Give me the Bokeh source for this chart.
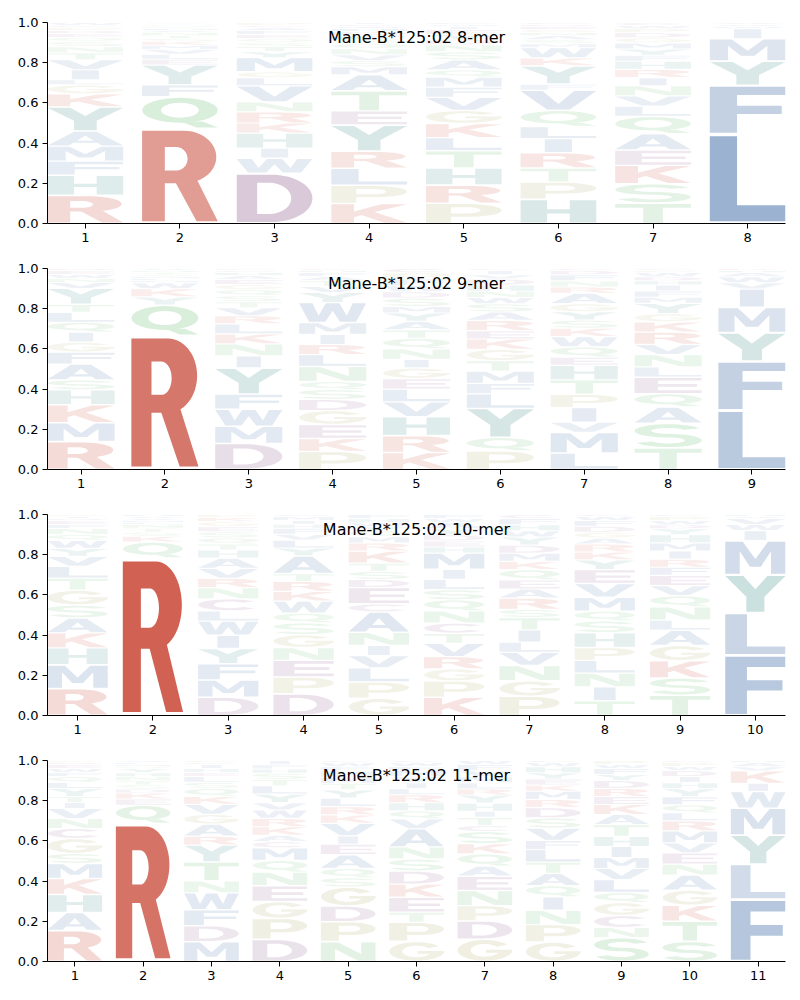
import numpy as np
from bokeh.plotting import figure
from bokeh.layouts import column
from bokeh.models import FixedTicker, PrintfTickFormatter, Label, ColumnDataSource
from bokeh.embed import file_html
from bokeh.resources import INLINE

# ---------------- data: per panel, per position (bottom -> top) ----------------
titles = ["Mane-B*125:02 8-mer", "Mane-B*125:02 9-mer",
          "Mane-B*125:02 10-mer", "Mane-B*125:02 11-mer"]

mer8 = [
    ("RHFMAYKGLIVTNSQEDPCW", [.14, .10, .07, .075, .075, .12, .065, .045, .025, .05, .05, .035, .03, .025, .02, .02, .015, .015, .01, .015]),
    ("RQFYELVMKSTNAHGDWPIC", [.48, .16, .06, .10, .03, .025, .025, .02, .02, .015, .015, .015, .01, .01, .005, .005, .005, .005, .005, .005]),
    ("DWIHKRNVLGMYTSQEFACP", [.25, .075, .05, .075, .05, .055, .05, .08, .04, .03, .07, .03, .025, .02, .02, .02, .02, .015, .01, .015]),
    ("KPLRYETAMSVNQGFDHWCI", [.10, .09, .085, .085, .13, .07, .10, .08, .04, .03, .03, .03, .025, .02, .02, .02, .015, .01, .01, .01]),
    ("PRHTLKGVFMQASNDYEIWC", [.10, .09, .085, .085, .065, .07, .065, .065, .05, .05, .035, .05, .04, .035, .025, .025, .025, .015, .01, .01]),
    ("HPTRILQVFYKWMSANGEDC", [.12, .085, .07, .075, .07, .06, .08, .10, .03, .09, .04, .05, .02, .02, .02, .015, .015, .015, .01, .01]),
    ("TSKEAQLVNIRHFYMGDPWC", [.10, .095, .09, .075, .08, .085, .05, .05, .05, .04, .04, .04, .03, .03, .03, .025, .025, .02, .015, .015]),
    ("LFYMIWVA", [.44, .24, .12, .11, .05, .01, .01, .01]),
]
mer9 = [
    ("RMKHSAFGIQLTYVNWED", [.14, .095, .09, .075, .05, .08, .06, .05, .05, .05, .05, .04, .08, .03, .02, .02, .02, .01]),
    ("RQYKWHLMSTNV", [.66, .15, .04, .04, .03, .01, .01, .01, .01, .01, .01, .01]),
    ("DMWFYINKLRVTSQGEAHCP", [.13, .085, .085, .075, .13, .06, .06, .05, .05, .04, .04, .03, .03, .03, .025, .025, .02, .015, .01, .01]),
    ("PKEGDSQNLRIMWYVTAFHC", [.09, .065, .07, .07, .055, .05, .04, .075, .06, .05, .05, .06, .10, .05, .03, .03, .02, .02, .01, .01]),
    ("KRHVLEGINQTAYMSDWFPC", [.08, .08, .09, .07, .06, .05, .05, .04, .05, .05, .04, .04, .04, .03, .04, .03, .03, .03, .03, .02]),
    ("PQYLFMTGKERASWNHDVIC", [.09, .065, .14, .07, .05, .06, .05, .055, .05, .04, .05, .04, .04, .03, .03, .03, .03, .02, .02, .01]),
    ("LMVIPTHEQWKSYGARNFDC", [.08, .10, .05, .07, .065, .07, .07, .04, .05, .05, .04, .04, .04, .04, .05, .03, .03, .03, .02, .01]),
    ("TSAQELNVRKGYMFIHDWPC", [.105, .12, .08, .065, .08, .05, .06, .05, .06, .05, .04, .05, .03, .03, .03, .02, .02, .02, .01, .01]),
    ("LFYMIVWAHK", [.29, .24, .14, .125, .09, .03, .03, .02, .01, .01]),
]
mer10 = [
    ("RMHKASGTLVYWQNFEDIP", [.135, .12, .085, .075, .075, .065, .075, .06, .06, .05, .04, .04, .03, .03, .02, .02, .01, .01, .01]),
    ("RQKSTNLMVAH", [.80, .08, .03, .02, .02, .02, .01, .01, .01, .01, .01]),
    ("DMFYIWLCNRVAHTQSEGKP", [.09, .085, .08, .075, .065, .07, .05, .06, .055, .045, .05, .05, .04, .03, .03, .03, .025, .025, .02, .015]),
    ("DPENGSQWKRTAYLVFHIMC", [.11, .085, .085, .065, .065, .06, .05, .06, .05, .05, .04, .09, .04, .04, .03, .03, .02, .02, .02, .01]),
    ("GPLVINACEDSTKRMQYWHF", [.085, .08, .07, .06, .05, .065, .10, .04, .08, .04, .04, .04, .06, .04, .03, .03, .02, .02, .02, .02]),
    ("KPGRVTCNQSLIMHEDYAWF", [.09, .08, .06, .06, .065, .05, .05, .06, .055, .05, .05, .05, .08, .03, .03, .03, .03, .03, .02, .02]),
    ("PGNVLITSRAEQKMDYWHFC", [.095, .075, .075, .065, .05, .06, .06, .04, .055, .045, .045, .05, .04, .04, .04, .04, .03, .03, .03, .02]),
    ("TINLPHSQMVEYKRAGDFWC", [.075, .07, .07, .065, .065, .075, .06, .05, .07, .07, .07, .05, .04, .04, .03, .03, .03, .03, .02, .01]),
    ("TSKGALNQVEFRIMHYDWPC", [.10, .085, .085, .075, .075, .05, .065, .055, .05, .05, .04, .04, .04, .04, .04, .03, .02, .02, .02, .01]),
    ("FLYMIWVAH", [.30, .21, .19, .17, .05, .03, .03, .01, .01]),
]
mer11 = [
    ("RAHKMSGCNVITYLQFWEDP", [.155, .09, .09, .08, .075, .05, .075, .05, .05, .05, .03, .03, .04, .03, .03, .02, .02, .02, .01, .01]),
    ("RQEKDSTNHYGMLA", [.68, .09, .03, .03, .02, .02, .02, .02, .02, .02, .01, .01, .01, .01]),
    ("MDFWNTYRAGVKQSLEHICP", [.10, .08, .08, .085, .06, .095, .085, .045, .06, .05, .05, .04, .04, .03, .03, .02, .02, .02, .01, .01]),
    ("DPGENQMCAKRWVYLTSHFI", [.105, .10, .08, .075, .065, .055, .06, .03, .03, .04, .04, .04, .035, .04, .04, .03, .03, .02, .02, .02]),
    ("NPDGSQAEIVKRLYTMHFWC", [.095, .095, .075, .09, .045, .045, .065, .05, .04, .06, .04, .04, .04, .04, .03, .03, .03, .02, .02, .01]),
    ("GPTEKDSNAVQHRLIYMFWC", [.10, .095, .05, .075, .065, .065, .06, .06, .09, .05, .04, .04, .04, .03, .03, .03, .03, .02, .02, .01]),
    ("GDPNEAQKSCTIHYRLMVFW", [.11, .09, .075, .075, .07, .05, .06, .05, .06, .03, .04, .03, .04, .04, .03, .03, .03, .03, .03, .02]),
    ("GPNIQATLFVSDRMKEYHWC", [.095, .085, .07, .065, .055, .06, .055, .06, .045, .06, .05, .05, .04, .04, .03, .03, .03, .03, .02, .01]),
    ("SNCGQLVMIHTAKERDYFWP", [.12, .05, .06, .065, .05, .065, .055, .055, .055, .05, .06, .05, .05, .04, .04, .04, .03, .03, .02, .02]),
    ("STKGANEVMRLQFYHIDWPC", [.10, .10, .08, .075, .075, .055, .055, .05, .06, .05, .04, .04, .04, .04, .03, .03, .03, .02, .02, .01]),
    ("FLYMWIKVAH", [.30, .17, .14, .13, .08, .04, .06, .02, .02, .01]),
]
panels = [mer8, mer9, mer10, mer11]

# ---------------- colours ----------------
GROUP_RGB = {
    "blue": (70, 112, 168), "teal": (60, 140, 135), "red": (203, 81, 65),
    "purple": (140, 90, 140), "green": (90, 180, 100), "olive": (170, 165, 95),
}
LETTER_GROUP = {}
for g, ls in [("blue", "AVLIMFW"), ("teal", "YH"), ("red", "RK"),
              ("purple", "DEC"), ("green", "QNST"), ("olive", "PG")]:
    for c in ls:
        LETTER_GROUP[c] = g


def letter_color(letter, h):
    a = min(0.95, 0.06 + 1.08 * h)
    r, g, b = GROUP_RGB[LETTER_GROUP[letter]]
    mix = [int(round(255 - a * (255 - c))) for c in (r, g, b)]
    return "#%02x%02x%02x" % tuple(mix)


# ---------------- glyph outlines in a unit box ----------------
def ell(cx, cy, rx, ry, a0, a1, n=30):
    t = np.radians(np.linspace(a0, a1, n))
    return [(cx + rx * np.cos(a), cy + ry * np.sin(a)) for a in t]


def ring(cx, cy, rxo, ryo, rxi, ryi, a0, a1):
    return ell(cx, cy, rxo, ryo, a0, a1) + ell(cx, cy, rxi, ryi, a1, a0)


def area(pts):
    s = 0.0
    for i in range(len(pts)):
        x1, y1 = pts[i]
        x2, y2 = pts[(i + 1) % len(pts)]
        s += x1 * y2 - x2 * y1
    return s / 2


def orient(pts, ccw):
    if (area(pts) > 0) != ccw:
        return pts[::-1]
    return pts


SHAPES = {
    "A": [[[(0, 0), (0.28, 0), (0.34, 0.19), (0.66, 0.19), (0.72, 0), (1, 0), (0.65, 1), (0.35, 1)],
           [(0.39, 0.34), (0.61, 0.34), (0.5, 0.72)]]],
    "C": [[ring(0.53, 0.5, 0.53, 0.5, 0.27, 0.31, 40, 320)]],
    "D": [[[(0, 0), (0.45, 0)] + ell(0.45, 0.5, 0.55, 0.5, -90, 90)[1:-1] + [(0.45, 1), (0, 1)],
           [(0.27, 0.17), (0.42, 0.17)] + ell(0.42, 0.5, 0.3, 0.33, -90, 90)[1:-1] + [(0.42, 0.83), (0.27, 0.83)]]],
    "E": [[[(0, 0), (1, 0), (1, 0.18), (0.35, 0.18), (0.35, 0.41), (0.93, 0.41), (0.93, 0.59),
            (0.35, 0.59), (0.35, 0.82), (1, 0.82), (1, 1), (0, 1)]]],
    "F": [[[(0, 0), (0.36, 0), (0.36, 0.41), (0.95, 0.41), (0.95, 0.59), (0.36, 0.59), (0.36, 0.82),
            (1, 0.82), (1, 1), (0, 1)]]],
    "G": [[ring(0.5, 0.5, 0.5, 0.5, 0.26, 0.31, 35, 360)],
          [[(0.52, 0.38), (1, 0.38), (1, 0.53), (0.52, 0.53)]]],
    "H": [[[(0, 0), (0.35, 0), (0.35, 0.41), (0.65, 0.41), (0.65, 0), (1, 0), (1, 1), (0.65, 1),
            (0.65, 0.59), (0.35, 0.59), (0.35, 1), (0, 1)]]],
    "I": [[[(0.32, 0), (0.68, 0), (0.68, 1), (0.32, 1)]]],
    "K": [[[(0, 0), (0.3, 0), (0.3, 0.3), (0.4, 0.41), (0.7, 0), (1, 0), (0.57, 0.58), (1, 1),
            (0.66, 1), (0.3, 0.6), (0.3, 1), (0, 1)]]],
    "L": [[[(0, 0), (1, 0), (1, 0.19), (0.36, 0.19), (0.36, 1), (0, 1)]]],
    "M": [[[(0, 0), (0.24, 0), (0.24, 0.7), (0.41, 0.22), (0.59, 0.22), (0.76, 0.7), (0.76, 0), (1, 0),
            (1, 1), (0.71, 1), (0.5, 0.46), (0.29, 1), (0, 1)]]],
    "N": [[[(0, 0), (0.26, 0), (0.26, 0.64), (0.68, 0), (1, 0), (1, 1), (0.74, 1), (0.74, 0.36),
            (0.32, 1), (0, 1)]]],
    "P": [[[(0, 0), (0.33, 0), (0.33, 0.32), (0.55, 0.32)] + ell(0.55, 0.66, 0.45, 0.34, -90, 90)[1:-1]
           + [(0.55, 1), (0, 1)],
           [(0.33, 0.5), (0.55, 0.5)] + ell(0.55, 0.665, 0.17, 0.165, -90, 90)[1:-1] + [(0.55, 0.83), (0.33, 0.83)]]],
    "Q": [[ell(0.5, 0.58, 0.5, 0.42, 0, 360)[:-1], ell(0.5, 0.58, 0.25, 0.25, 0, 360)[:-1]],
          [[(0.52, 0.18), (0.72, 0), (1, 0), (0.8, 0.2)]]],
    "R": [[[(0, 0), (0.3, 0), (0.3, 0.42), (0.55, 0.42)] + ell(0.55, 0.71, 0.43, 0.29, -90, 90)[1:-1]
           + [(0.55, 1), (0, 1)],
           [(0.3, 0.56), (0.45, 0.56)] + ell(0.45, 0.69, 0.15, 0.13, -90, 90)[1:-1] + [(0.45, 0.82), (0.3, 0.82)]],
          [[(0.42, 0.46), (0.72, 0), (1, 0), (0.7, 0.5)]]],
    "S": [[ring(0.5, 0.71, 0.5, 0.29, 0.25, 0.13, 20, 270)],
          [ring(0.5, 0.29, 0.5, 0.29, 0.25, 0.13, -160, 90)]],
    "T": [[[(0, 1), (1, 1), (1, 0.8), (0.63, 0.8), (0.63, 0), (0.37, 0), (0.37, 0.8), (0, 0.8)]]],
    "V": [[[(0, 1), (0.29, 1), (0.5, 0.3), (0.71, 1), (1, 1), (0.65, 0), (0.35, 0)]]],
    "W": [[[(0, 1), (0.2, 1), (0.29, 0.33), (0.4, 1), (0.6, 1), (0.71, 0.33), (0.8, 1), (1, 1),
            (0.85, 0), (0.61, 0), (0.5, 0.6), (0.39, 0), (0.15, 0)]]],
    "Y": [[[(0, 1), (0.3, 1), (0.5, 0.63), (0.7, 1), (1, 1), (0.65, 0.42), (0.65, 0), (0.35, 0),
            (0.35, 0.42)]]],
}


def glyph_parts(letter, xc, y0, h, w=0.8):
    """Each sub-polygon of a letter becomes its own item, so overlapping
    strokes never cancel each other under the even-odd fill rule."""
    parts = []
    for poly in SHAPES[letter]:
        px, py = [], []
        for k, rng_ in enumerate(poly):
            rng_ = orient(list(rng_), k == 0)
            px.append([xc - w / 2 + w * u for u, v in rng_])
            py.append([y0 + h * v for u, v in rng_])
        parts.append(([px], [py]))
    return parts


def make_panel(title, cols):
    n = len(cols)
    p = figure(width=800, height=246, x_range=(0.6, n + 0.4), y_range=(0, 1),
               output_backend="svg", toolbar_location=None,
               min_border_left=47, min_border_right=15, min_border_top=22, min_border_bottom=23)
    xs, ys, colors = [], [], []
    for i, (letters, hs) in enumerate(cols):
        hs = np.array(hs, dtype=float)
        hs = hs / hs.sum()
        y = 0.0
        for L, h in zip(letters, hs):
            pad = min(0.02 * h + 0.002, 0.25 * h)
            col = letter_color(L, h)
            for gx, gy in glyph_parts(L, i + 1, y + pad, h - 2 * pad):
                xs.append(gx)
                ys.append(gy)
                colors.append(col)
            y += h
    src = ColumnDataSource(dict(xs=xs, ys=ys, c=colors))
    p.multi_polygons(xs="xs", ys="ys", source=src, fill_color="c", line_color=None)

    p.xgrid.visible = False
    p.ygrid.visible = False
    p.outline_line_color = None
    p.xaxis.ticker = FixedTicker(ticks=list(range(1, n + 1)))
    p.yaxis.ticker = FixedTicker(ticks=[0, 0.2, 0.4, 0.6, 0.8, 1.0])
    p.yaxis.formatter = PrintfTickFormatter(format="%.1f")
    for ax in (p.xaxis[0], p.yaxis[0]):
        ax.major_tick_out = 5
        ax.major_tick_in = 0
        ax.minor_tick_out = 0
        ax.minor_tick_in = 0
        ax.axis_line_color = "black"
        ax.axis_line_width = 1
        ax.major_tick_line_color = "black"
        ax.major_label_text_font = "DejaVu Sans"
        ax.major_label_text_font_size = "13px"
        ax.major_label_text_color = "black"
        ax.major_label_standoff = 4
    p.add_layout(Label(x=(0.6 + n + 0.4) / 2, y=0.925, text=title, text_align="center",
                       text_baseline="middle", text_font="DejaVu Sans", text_font_size="16px",
                       text_color="black"))
    return p


figs = [make_panel(t, c) for t, c in zip(titles, panels)]
layout = column(*figs, spacing=0)
open("out.html", "w").write(file_html(layout, INLINE))
